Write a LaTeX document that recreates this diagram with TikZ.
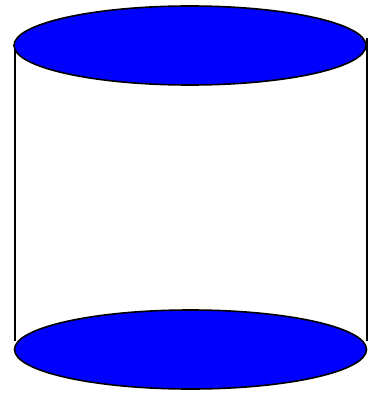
\documentclass[tikz,border=0pt]{standalone}
\begin{document}
\begin{tikzpicture}[x=1pt,y=-1pt,
  sideline/.style={line width=2pt},
  lid/.style={fill={rgb,255:red,0;green,0;blue,255},draw=black,line width=1.6pt}]
\useasboundingbox (0,0) rectangle (378,393);
\draw[sideline] (15,45) -- (15,341);
\draw[sideline] (367,38) -- (367,341);
\draw[lid] (190,45.5) ellipse [x radius=176, y radius=39.5];
\draw[lid] (190.5,349.5) ellipse [x radius=176, y radius=39.5];
\end{tikzpicture}
\end{document}
